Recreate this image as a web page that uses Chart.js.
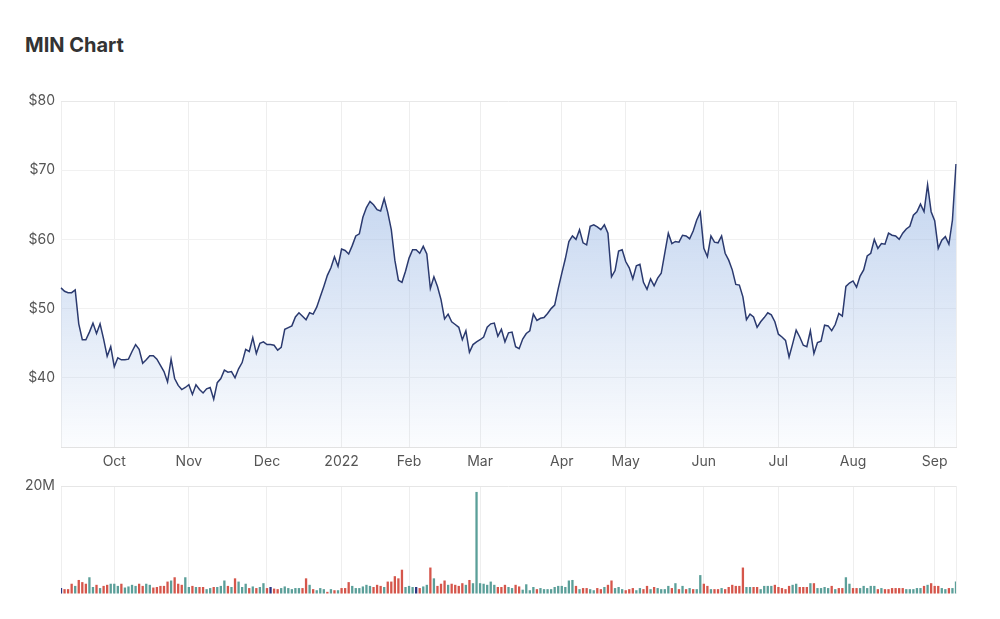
<!DOCTYPE html>
<html>
<head>
<meta charset="utf-8">
<title>MIN Chart</title>
<script src="https://cdn.jsdelivr.net/npm/chart.js@4.4.1/dist/chart.umd.min.js"></script>
<style>
  body { margin: 0; background: #fff; font-family: Inter, "Open Sans", sans-serif; }
  #wrap { position: relative; width: 1000px; height: 619px; overflow: hidden; }
  h2 { position: absolute; left: 25px; top: 35px; margin: 0; font-size: 20px; line-height: 20px; font-weight: 700; color: #333; }
  #priceChart { position: absolute; left: 0; top: 0; }
  #volChart { position: absolute; left: 0; top: 470px; }
</style>
</head>
<body>
<div id="wrap">
  <h2>MIN Chart</h2>
  <canvas id="priceChart" width="1000" height="480"></canvas>
  <canvas id="volChart" width="1000" height="149"></canvas>
</div>
<script>
// trading days (ASX), Sep 10 2021 -> Sep 9 2022
const startDate = '2021-09-10'
const endDate = '2022-09-09'
const holidays = ['2021-12-27', '2021-12-28', '2022-01-03', '2022-01-26',
  '2022-04-15', '2022-04-18', '2022-04-25', '2022-06-13']
const monthNames = ['Jan', 'Feb', 'Mar', 'Apr', 'May', 'Jun', 'Jul', 'Aug', 'Sep', 'Oct', 'Nov', 'Dec']

// closing price, $
const prices = [
  53.0, 52.5, 52.3, 52.3, 52.7, 47.8, 45.5, 45.5, 46.6, 47.9, 46.4, 47.8, 45.6, 43.1, 44.5,
  41.6, 42.9, 42.6, 42.6, 42.7, 43.8, 44.8, 44.1, 42.1, 42.6, 43.2, 43.2, 42.7, 41.8, 40.9,
  39.4, 42.7, 39.9, 38.9, 38.3, 38.6,
  39.0, 37.6, 39.0, 38.3, 37.8, 38.4, 38.6, 36.9, 39.3, 39.9, 41.1, 40.8, 40.9, 40.0, 41.3,
  42.2, 44.1, 43.8, 45.8, 43.5, 45.0, 45.2,
  44.8, 44.8, 44.7, 44.0, 44.4, 47.0, 47.25, 47.5, 48.8, 49.4, 48.9, 48.4, 49.4, 49.2, 50.2,
  51.7, 53.2, 54.8, 55.9, 57.5, 56.1,
  58.6, 58.4, 57.9, 59.1, 60.5, 60.8, 63.2, 64.6, 65.5, 65.0, 64.3, 64.1, 65.9, 63.9, 61.4,
  57.0, 54.1, 53.8, 55.4,
  57.3, 58.5, 58.5, 58.0, 59.0, 57.9, 52.9, 54.6, 53.2, 51.3, 48.5, 49.2, 48.1, 47.7, 47.3,
  45.5, 46.8, 43.7, 44.8, 45.2,
  45.5, 45.9, 47.3, 47.8, 47.9, 46.0, 47.0, 45.2, 46.5, 46.6, 44.5, 44.2, 45.6, 46.4, 46.8,
  49.2, 48.3, 48.6, 48.7, 49.3, 50.0, 50.5, 52.9,
  55.1, 57.2, 59.7, 60.5, 60.0, 61.4, 59.5, 59.2, 61.9, 62.1, 61.8, 61.4, 62.1, 60.9, 54.6,
  55.5, 58.3, 58.5,
  56.8, 55.9, 54.3, 56.2, 56.4, 53.8, 52.8, 54.3, 53.3, 54.4, 55.1, 58.0, 60.9, 59.4, 59.7,
  59.6, 60.6, 60.5, 60.1, 61.2, 62.8, 63.9,
  58.7, 57.5, 60.5, 59.6, 59.5, 60.5, 58.0, 57.0, 55.6, 53.5, 53.4, 51.7, 48.4, 49.2, 48.8,
  47.3, 48.1, 48.7, 49.4, 49.1, 48.1,
  46.3, 45.9, 45.4, 43.0, 44.9, 46.9, 45.9, 44.7, 44.5, 46.8, 43.5, 45.1, 45.3, 47.6, 47.5,
  46.8, 47.7, 49.3, 48.9, 53.2, 53.7,
  54.0, 53.1, 54.7, 55.6, 57.6, 58.0, 60.0, 58.7, 59.4, 59.3, 60.9, 60.6, 60.5, 60.0, 60.9,
  61.5, 61.9, 63.5, 64.0, 65.1, 64.0, 67.9, 64.0,
  62.7, 58.7, 59.9, 60.4, 59.3, 62.8, 70.9
]

// daily volume, millions of shares
const volumeM = [
  1.1, 0.9, 0.9, 1.9, 1.5, 2.6, 2.2, 1.9, 3.1, 1.3, 1.7, 1.1, 1.5, 1.7, 1.9, 1.9, 1.5, 1.9, 1.2, 1.4,
  1.7, 1.5, 1.9, 1.5, 1.9, 1.7, 1.2, 1.3, 1.5, 1.5, 2.3, 2.5, 3.1, 1.9, 1.7, 3.1, 1.3, 1.5, 1.3, 1.3,
  1.3, 0.9, 1.1, 1.3, 1.3, 1.5, 2.5, 1.5, 1.3, 2.9, 2.3, 1.3, 1.9, 1.1, 1.4, 1.1, 1.3, 2.0, 1.1, 1.3,
  1.0, 0.9, 1.1, 1.4, 1.1, 0.9, 1.1, 1.1, 1.1, 2.9, 1.7, 0.9, 0.7, 1.1, 0.9, 0.4, 0.9, 0.7, 0.7, 1.1,
  1.1, 2.2, 1.5, 1.1, 1.1, 1.4, 1.7, 1.5, 1.3, 1.7, 1.5, 1.3, 2.3, 2.3, 3.3, 2.9, 4.5, 1.3, 1.5, 1.3,
  1.3, 1.1, 1.4, 1.7, 4.9, 2.9, 1.5, 1.9, 2.5, 1.7, 1.9, 1.7, 1.5, 2.0, 1.7, 2.6, 2.0, 18.9, 2.0, 1.9,
  1.7, 2.3, 1.7, 1.3, 1.3, 1.7, 1.3, 1.1, 1.7, 1.4, 0.8, 1.8, 0.7, 1.3, 0.9, 1.1, 0.9, 0.9, 0.9, 1.3,
  1.5, 1.5, 1.3, 2.5, 2.6, 1.5, 0.9, 1.1, 1.1, 0.9, 0.7, 1.1, 0.9, 1.3, 1.7, 2.5, 1.1, 1.3, 0.9, 0.7,
  0.9, 1.1, 0.7, 1.1, 0.9, 1.5, 0.9, 1.3, 1.1, 0.9, 0.9, 1.5, 1.1, 2.0, 0.9, 1.5, 0.9, 1.1, 0.9, 0.9,
  3.5, 1.9, 1.5, 0.9, 0.9, 0.9, 1.1, 0.9, 1.3, 1.7, 1.5, 1.5, 4.9, 1.3, 1.3, 1.3, 1.3, 0.9, 1.5, 1.5,
  1.5, 1.7, 1.3, 1.1, 0.9, 1.5, 1.7, 1.9, 1.3, 1.3, 1.3, 2.0, 2.0, 1.1, 1.1, 1.3, 1.1, 1.5, 0.9, 1.1,
  1.1, 3.1, 1.9, 1.1, 1.1, 1.1, 1.5, 1.1, 1.5, 1.5, 0.9, 1.1, 0.9, 0.9, 1.1, 1.1, 1.1, 1.1, 0.9, 0.9,
  0.9, 1.1, 1.1, 1.5, 1.7, 2.0, 1.5, 1.5, 1.1, 0.9, 1.1, 1.1, 2.3
]

// day direction for each volume bar: u = up, d = down, n = unchanged
const volumeDir = (
  'nddduddduu' + 'dudduuuduu' + 'uudduudddd' + 'duddduudud' + 'duuduuudud' +
  'uuududuudn' + 'dduuuuuudd' + 'uduuududud' + 'dduuuuuudd' + 'duddddduuu' +
  'nduududddu' + 'dddduduuuu' + 'uuuddduudd' + 'uuuuduuuuu' + 'uuuuududdu' +
  'uddudduuud' + 'dduudduduu' + 'uududududu' + 'uddudduddd' + 'ddduudduuu' +
  'uddddduudd' + 'duduuuudud' + 'duudduuuuu' + 'dudddddduu' + 'uuududdduu' +
  'duu'
).split('')

const priceTicks = [30, 40, 50, 60, 70, 80]
const volumeMax = 20

function tradingDays(start, end, skip) {
  const out = []
  const d = new Date(start + 'T00:00:00Z')
  const last = new Date(end + 'T00:00:00Z')
  while (d <= last) {
    const iso = d.toISOString().slice(0, 10)
    const wd = d.getUTCDay()
    if (wd !== 0 && wd !== 6 && !skip.includes(iso)) out.push(iso)
    d.setUTCDate(d.getUTCDate() + 1)
  }
  return out
}

const dates = tradingDays(startDate, endDate, holidays)

const isMonthStart = i => i > 0 && dates[i].slice(5, 7) !== dates[i - 1].slice(5, 7)
const monthLabel = i => {
  if (!isMonthStart(i)) return ''
  const m = parseInt(dates[i].slice(5, 7), 10) - 1
  return m === 0 ? dates[i].slice(0, 4) : monthNames[m]
}
const gridColor = '#eeeeee'
const vGrid = c => (c.index === 0 || c.index === dates.length - 1 || isMonthStart(c.index)) ? gridColor : 'rgba(0,0,0,0)'

Chart.defaults.font.family = 'Inter, "Open Sans", sans-serif'
Chart.defaults.font.size = 14
Chart.defaults.color = '#555'

const priceChart = new Chart(document.getElementById('priceChart'), {
  type: 'line',
  data: {
    labels: dates,
    datasets: [{
      data: prices,
      borderColor: '#2b3a6f',
      borderWidth: 1.5,
      pointRadius: 0,
      tension: 0,
      fill: 'start',
      backgroundColor: ctx => {
        const area = ctx.chart.chartArea
        if (!area) return 'rgba(170,195,232,0.4)'
        const g = ctx.chart.ctx.createLinearGradient(0, area.top, 0, area.bottom)
        g.addColorStop(0, 'rgba(160,188,230,0.8)')
        g.addColorStop(1, 'rgba(160,188,230,0.04)')
        return g
      }
    }]
  },
  options: {
    responsive: false,
    devicePixelRatio: 1,
    animation: false,
    layout: { padding: { top: 101, right: 44, left: 0, bottom: 0 } },
    plugins: { legend: { display: false }, tooltip: { enabled: false } },
    scales: {
      x: {
        offset: false,
        grid: { offset: false, drawTicks: false, color: vGrid },
        border: { display: true, color: '#e2e2e2' },
        ticks: { autoSkip: false, maxRotation: 0, minRotation: 0, padding: 6, callback: (v, i) => monthLabel(i) },
        afterFit: s => { s.height = 33 }
      },
      y: {
        min: priceTicks[0],
        max: priceTicks[priceTicks.length - 1],
        afterBuildTicks: s => { s.ticks = priceTicks.map(v => ({ value: v })) },
        grid: { drawTicks: false, color: c => c.tick && c.tick.value === 80 ? '#e8e8e8' : '#f1f1f1' },
        border: { display: false },
        ticks: { padding: 6, callback: v => v === priceTicks[0] ? '' : '$' + v },
        afterFit: s => { s.width = 61 }
      }
    }
  }
})

const volColors = { u: '#5b9f99', d: '#d5564b', n: '#2b3580' }

const volChart = new Chart(document.getElementById('volChart'), {
  type: 'bar',
  data: {
    labels: dates,
    datasets: [{
      data: volumeM,
      backgroundColor: volumeDir.map(d => volColors[d]),
      barPercentage: 0.65,
      categoryPercentage: 1
    }]
  },
  options: {
    responsive: false,
    devicePixelRatio: 1,
    animation: false,
    layout: { padding: { top: 16, right: 44, left: 0, bottom: 25 } },
    plugins: { legend: { display: false }, tooltip: { enabled: false } },
    scales: {
      x: {
        offset: false,
        grid: { offset: false, drawTicks: false, color: vGrid },
        border: { display: false },
        ticks: { display: false, autoSkip: false, maxRotation: 0 },
        afterFit: s => { s.height = 0 }
      },
      y: {
        min: 0,
        max: volumeMax,
        afterBuildTicks: s => { s.ticks = [{ value: 0 }, { value: volumeMax }] },
        grid: { drawTicks: false, color: c => c.tick && c.tick.value === volumeMax ? '#e6e6e6' : 'rgba(0,0,0,0)' },
        border: { display: false },
        ticks: { padding: 6, callback: v => v === volumeMax ? volumeMax + 'M' : '' },
        afterFit: s => { s.width = 61 }
      }
    }
  }
})
</script>
</body>
</html>
